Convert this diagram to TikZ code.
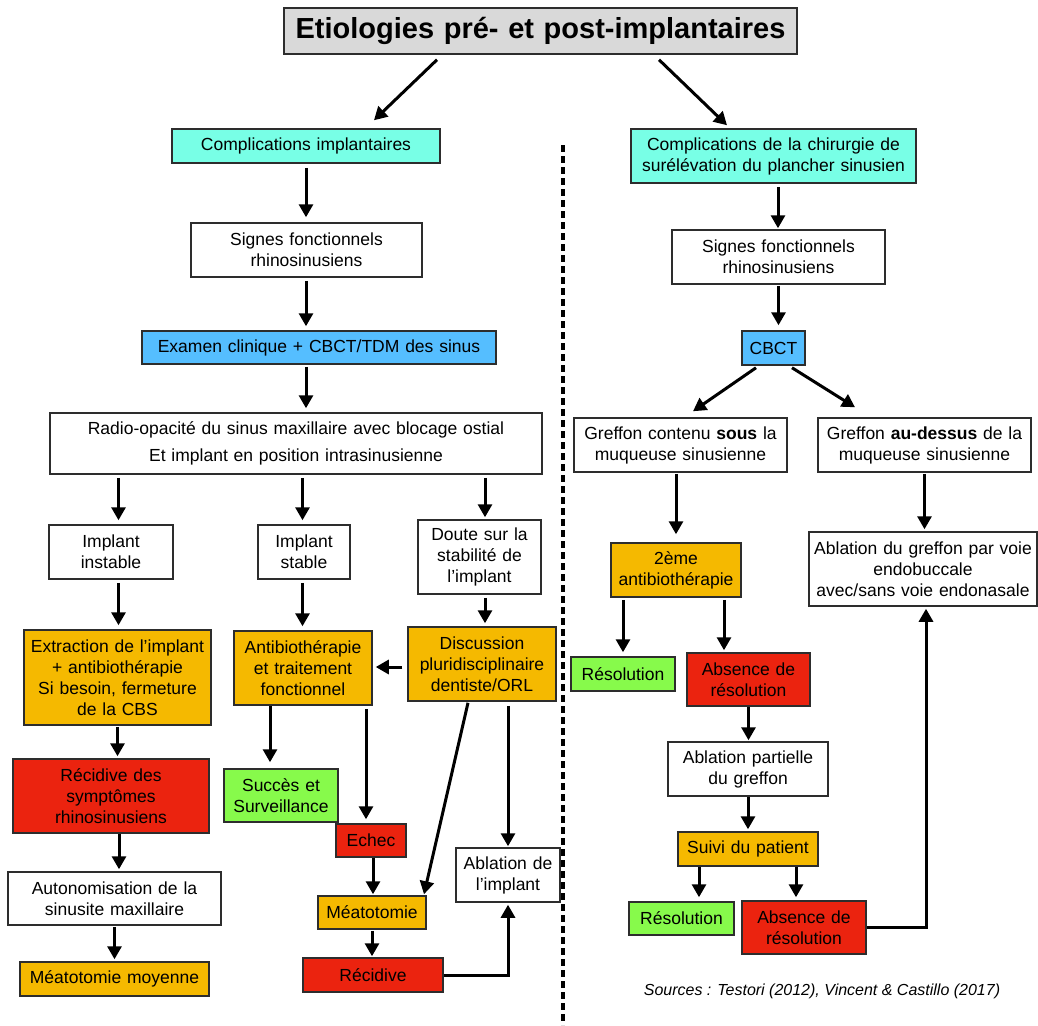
\documentclass[tikz,border=0pt]{standalone}
\usepackage{fontspec}
\setmainfont{Liberation Sans}
\usetikzlibrary{arrows.meta,calc}
\definecolor{cyanbox}{RGB}{120,255,230}
\definecolor{bluebox}{RGB}{85,190,255}
\definecolor{orangebox}{RGB}{245,185,0}
\definecolor{redbox}{RGB}{235,35,15}
\definecolor{greenbox}{RGB}{135,250,75}
\definecolor{titlegray}{RGB}{217,217,217}
\definecolor{bordergray}{RGB}{45,45,45}
\newcommand\bodyfnt{\fontsize{17.5}{21}\selectfont}
\tikzset{
  box/.style={draw=bordergray, line width=1.5pt, inner sep=0pt, align=center, font=\bodyfnt, fill=white},
  obox/.style={box, fill=orangebox},
  rbox/.style={box, fill=redbox},
  gbox/.style={box, fill=greenbox},
  cbox/.style={box, fill=cyanbox},
  bbox/.style={box, fill=bluebox},
  arr/.style={draw=black, line width=3pt, -{Triangle[length=13pt,width=14pt]}},
  sepline/.style={draw=black, line width=3.5pt, dash pattern=on 7pt off 4pt},
}
\begin{document}
\begin{tikzpicture}[x=1pt,y=-1pt]
\useasboundingbox (0,0) rectangle (1038,1025);
% title
\node[box, fill=titlegray, text width=513pt, minimum height=46pt, font=\bfseries\fontsize{29}{34}\selectfont] (title) at (540.5,31) {Etiologies pré- et post-implantaires};
% separator
\draw[sepline] (563,145) -- (563,1025);
% left column
\node[cbox, text width=268pt, minimum height=34pt] (ci) at (306,146) {Complications implantaires};
\node[box, text width=231pt, minimum height=54pt] (sf1) at (306.5,250) {Signes fonctionnels\\rhinosinusiens};
\node[bbox, text width=354pt, minimum height=33pt] (ex) at (319,347.5) {Examen clinique + CBCT/TDM des sinus};
\node[box, text width=492pt, minimum height=61pt, font=\fontsize{17.5}{27}\selectfont] (radio) at (296,443.5) {Radio-opacité du sinus maxillaire avec blocage ostial\\Et implant en position intrasinusienne};
\node[box, text width=124pt, minimum height=54pt] (inst) at (111,552) {Implant\\instable};
\node[box, text width=92pt, minimum height=54pt] (stab) at (304,552) {Implant\\stable};
\node[box, text width=123pt, minimum height=74pt] (doute) at (479.5,557) {Doute sur la\\stabilité de\\l’implant};
\node[obox, text width=187pt, minimum height=95pt] (extr) at (117.5,677.5) {Extraction de l’implant\\+ antibiothérapie\\Si besoin, fermeture\\de la CBS};
\node[obox, text width=138pt, minimum height=74pt] (antib) at (303,668) {Antibiothérapie\\et traitement\\fonctionnel};
\node[obox, text width=148pt, minimum height=74pt] (disc) at (482,664) {Discussion\\pluridisciplinaire\\dentiste/ORL};
\node[rbox, text width=196pt, minimum height=74pt] (recs) at (111,796) {Récidive des\\symptômes\\rhinosinusiens};
\node[gbox, text width=114pt, minimum height=53pt] (succ) at (281,795.5) {Succès et\\Surveillance};
\node[rbox, text width=70pt, minimum height=33pt] (echec) at (371,840.5) {Echec};
\node[box, text width=104pt, minimum height=54pt] (abl) at (508,875) {Ablation de\\l’implant};
\node[box, text width=213pt, minimum height=53pt] (auto) at (114.5,898.5) {Autonomisation de la\\sinusite maxillaire};
\node[obox, text width=189pt, minimum height=34pt] (mm) at (114.5,979) {Méatotomie moyenne};
\node[obox, text width=108pt, minimum height=33pt] (meat) at (372,912.5) {Méatotomie};
\node[rbox, text width=140pt, minimum height=34pt] (rec) at (373,975) {Récidive};
% right column
\node[cbox, text width=285pt, minimum height=54pt] (cc) at (773.5,156) {Complications de la chirurgie de\\surélévation du plancher sinusien};
\node[box, text width=213pt, minimum height=54pt] (sf2) at (778.5,257) {Signes fonctionnels\\rhinosinusiens};
\node[bbox, text width=63pt, minimum height=34pt] (cbct) at (773.5,348) {CBCT};
\node[box, text width=213pt, minimum height=54pt] (gs) at (680.5,445) {Greffon contenu \textbf{sous} la\\muqueuse sinusienne};
\node[box, text width=213pt, minimum height=54pt] (ga) at (924.5,445) {Greffon \textbf{au-dessus} de la\\muqueuse sinusienne};
\node[obox, text width=130pt, minimum height=54pt] (anti2) at (676,570) {2ème\\antibiothérapie};
\node[box, text width=228pt, minimum height=74pt] (abg) at (923,569) {Ablation du greffon par voie\\endobuccale\\avec/sans voie endonasale};
\node[gbox, text width=104pt, minimum height=34pt] (res1) at (623,674) {Résolution};
\node[rbox, text width=123pt, minimum height=53pt] (abs1) at (748.5,679.5) {Absence de\\résolution};
\node[box, text width=160pt, minimum height=54pt] (abp) at (748,769) {Ablation partielle\\du greffon};
\node[obox, text width=140pt, minimum height=34pt] (suivi) at (748,849) {Suivi du patient};
\node[gbox, text width=105pt, minimum height=33pt] (res2) at (681.5,918.5) {Résolution};
\node[rbox, text width=124pt, minimum height=53pt] (abs2) at (804,927.5) {Absence de\\résolution};
\node[font=\itshape\fontsize{16}{19}\selectfont, inner sep=0pt] (src) at (822,991) {Sources : Testori (2012), Vincent \& Castillo (2017)};
% connectors, left
\draw[arr] ([xshift=-103.5pt,yshift=-5pt]title.south) -- ([xshift=68pt,yshift=8pt]ci.north);
\draw[arr] ([xshift=118.5pt,yshift=-5pt]title.south) -- ([xshift=-46.5pt,yshift=3pt]cc.north);
\draw[arr] ([yshift=-4pt]ci.south) -- ([yshift=5pt]ci.south |- sf1.north);
\draw[arr] ([yshift=-3pt]ci.south |- sf1.south) -- ([yshift=4pt]ci.south |- ex.north);
\draw[arr] ([yshift=-2pt]ci.south |- ex.south) -- ([yshift=4pt]ci.south |- radio.north);
\draw[arr] ([xshift=7.5pt,yshift=-3pt]inst.north |- radio.south) -- ([xshift=7.5pt,yshift=4pt]inst.north);
\draw[arr] ([xshift=-1.5pt,yshift=-3pt]stab.north |- radio.south) -- ([xshift=-1.5pt,yshift=4pt]stab.north);
\draw[arr] ([xshift=5.5pt,yshift=-3pt]doute.north |- radio.south) -- ([xshift=5.5pt,yshift=2pt]doute.north);
\draw[arr] ([xshift=7.5pt,yshift=-3pt]inst.south) -- ([xshift=7.5pt,yshift=4pt]inst.south |- extr.north);
\draw[arr] ([xshift=-1.5pt,yshift=-3pt]stab.south) -- ([xshift=-1.5pt,yshift=4pt]stab.south |- antib.north);
\draw[arr] ([xshift=5.5pt,yshift=-3pt]doute.south) -- ([xshift=5.5pt,yshift=3pt]doute.south |- disc.north);
\draw[arr] ([xshift=-5pt,yshift=-3pt]disc.west) -- ([xshift=3pt,yshift=-3pt]disc.west -| antib.east);
\draw[arr] ([yshift=-1pt]extr.south) -- ([yshift=2pt]extr.south |- recs.north);
\draw[arr] ([xshift=-33pt]antib.south) -- ([xshift=-33pt,yshift=6pt]antib.south |- succ.north);
\draw[arr] ([xshift=-5pt,yshift=-3pt]echec.north |- antib.south) -- ([xshift=-5pt,yshift=4pt]echec.north);
\draw[arr] ([yshift=-4pt]abl.north |- disc.south) -- ([yshift=1pt]abl.north);
\draw[arr] ([xshift=-14pt,yshift=-1pt]disc.south) -- ([xshift=52pt,yshift=1pt]meat.north);
\draw[arr] ([xshift=8pt]recs.south) -- ([xshift=8pt,yshift=2pt]recs.south |- auto.north);
\draw[arr] ([yshift=-1pt]auto.south) -- ([yshift=2pt]auto.south |- mm.north);
\draw[arr] ([xshift=2pt]echec.south) -- ([xshift=2pt,yshift=1pt]echec.south |- meat.north);
\draw[arr] ([yshift=-1pt]meat.south) -- ([yshift=1pt]meat.south |- rec.north);
\draw[arr] (rec.east) -| ([yshift=-2pt]abl.south);
% connectors, right
\draw[arr] ([xshift=4.5pt,yshift=-3pt]cc.south) -- ([xshift=4.5pt,yshift=1pt]cc.south |- sf2.north);
\draw[arr] ([yshift=-1pt]sf2.south) -- ([yshift=5pt]sf2.south |- cbct.north);
\draw[arr] ([xshift=-17.5pt,yshift=-2pt]cbct.south) -- ([xshift=12.5pt,yshift=6pt]gs.north);
\draw[arr] ([xshift=18.5pt,yshift=-2pt]cbct.south) -- ([xshift=-69.5pt,yshift=10pt]ga.north);
\draw[arr] ([yshift=-1pt]anti2.north |- gs.south) -- ([yshift=8pt]anti2.north);
\draw[arr] ([yshift=-1pt]ga.south) -- ([yshift=2pt]ga.south |- abg.north);
\draw[arr] ([yshift=-2pt]res1.north |- anti2.south) -- ([yshift=4pt]res1.north);
\draw[arr] ([xshift=-24.5pt,yshift=-2pt]abs1.north |- anti2.south) -- ([xshift=-24.5pt,yshift=2pt]abs1.north);
\draw[arr] (abs1.south) -- ([yshift=1pt]abs1.south |- abp.north);
\draw[arr] (abp.south) -- ([yshift=2pt]abp.south |- suivi.north);
\draw[arr] ([xshift=-49pt]suivi.south) -- ([xshift=-49pt,yshift=4pt]suivi.south |- res2.north);
\draw[arr] ([xshift=48pt]suivi.south) -- ([xshift=48pt,yshift=3pt]suivi.south |- abs2.north);
\draw[arr] (abs2.east) -| ([xshift=3pt,yshift=-2pt]abg.south);
\end{tikzpicture}
\end{document}
